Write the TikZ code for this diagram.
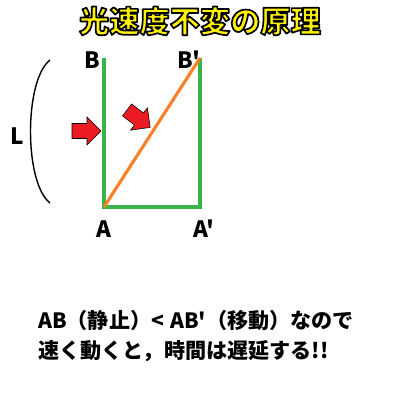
\documentclass[tikz,border=0pt]{standalone}
\usepackage{fontspec}
\setmainfont{Liberation Sans}
\newfontfamily\jpfont{Noto Sans CJK JP}
\definecolor{lineGreen}{RGB}{57,181,74}
\definecolor{lineOrange}{RGB}{255,127,39}
\definecolor{arrowRed}{RGB}{237,28,36}
\definecolor{titleYellow}{RGB}{255,242,0}
% outlined text: fill yellow, stroke black
\newcommand{\titletext}[1]{\textcolor{titleYellow}{\special{pdf:literal direct 0 0 0 RG 2 Tr 1.2 w 1 j}#1\special{pdf:literal direct 0 Tr}}}

\begin{document}
\begin{tikzpicture}[x=0.025cm,y=-0.025cm,
  ptlabel/.style={font=\jpfont\bfseries\fontsize{16}{18}\selectfont,inner sep=0pt},
  bodytext/.style={font=\jpfont\bfseries\fontsize{15}{18}\selectfont,anchor=west,inner sep=0pt},
  side/.style={lineGreen,line width=2.2pt},
  path/.style={lineOrange,line width=2.2pt},
  redarrow/.pic={\fill[arrowRed,draw=black,line width=0.4pt]
    (-15,-7.5) -- (0,-7.5) -- (0,-14) -- (14,0) -- (0,14) -- (0,7.5) -- (-15,7.5) -- cycle;}]
\useasboundingbox (0,0) rectangle (400,400);
% title
\node[font=\jpfont\bfseries\fontsize{21.5}{24}\selectfont] (title) at (200,21) {\titletext{光速度不変の原理}};
% corners
\coordinate (a) at (104,207);
\coordinate (b) at (104,58);
\coordinate (a') at (200,207);
\coordinate (b') at (200,58);
\draw[side] (b) -- (a) -- (a') -- (b');
\draw[path] (a) -- (b');
% labels
\node[ptlabel] (labB) at (92,60) {B};
\node[ptlabel] (labBp) at (189,60) {B'};
\node[ptlabel] (labA) at (104,229) {A};
\node[ptlabel] (labAp) at (204,229) {A'};
\node[ptlabel] (labL) at (17,136) {L};
% bracket
\coordinate (brTop) at (50,60);
\coordinate (brBot) at (50,203);
\draw[line width=1pt] (brTop) .. controls (24,80) and (24,183) .. (brBot);
% red arrows
\pic (arrStill) at (87,131) {redarrow};
\pic[rotate=-37] (arrMove) at (139,119) {redarrow};
% explanation
\node[bodytext] (line1) at (38,320) {AB（静止）<\hspace{0.3em}AB'（移動）なので};
\node[bodytext] (line2) at (38,351) {速く動くと，時間は遅延する!!};
\end{tikzpicture}
\end{document}
